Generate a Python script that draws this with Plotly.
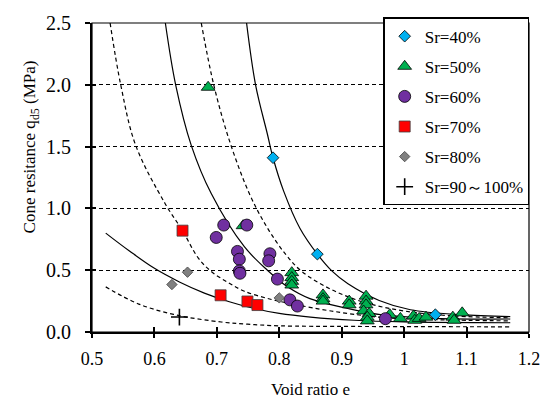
import plotly.graph_objects as go

FONT = "Liberation Serif"

# ---- measured series: void ratio e vs cone resistance qd5 (MPa) ----
sr40_e = [0.790, 0.861, 1.050]
sr40_q = [1.41, 0.63, 0.14]

sr50_e = [0.686, 0.742, 0.820, 0.820, 0.820, 0.820, 0.870, 0.870, 0.870,
          0.912, 0.912, 0.939, 0.939, 0.939, 0.935, 0.944, 0.941, 0.941,
          0.977, 0.994, 1.015, 1.017, 1.024, 1.035, 1.078, 1.080, 1.093]
sr50_q = [1.98, 0.86, 0.48, 0.44, 0.41, 0.38, 0.30, 0.27, 0.25,
          0.25, 0.22, 0.29, 0.25, 0.22, 0.17, 0.15, 0.12, 0.09,
          0.14, 0.11, 0.13, 0.095, 0.11, 0.12, 0.12, 0.095, 0.155]

sr60_e = [0.711, 0.699, 0.748, 0.733, 0.736, 0.736, 0.737, 0.785, 0.783,
          0.797, 0.817, 0.829, 0.970]
sr60_q = [0.865, 0.765, 0.865, 0.652, 0.589, 0.494, 0.475, 0.633, 0.576,
          0.428, 0.26, 0.21, 0.108]

sr70_e = [0.645, 0.706, 0.749, 0.765]
sr70_q = [0.82, 0.297, 0.247, 0.218]

sr80_e = [0.653, 0.628, 0.800]
sr80_q = [0.484, 0.384, 0.276]

sr90_e = [0.640]
sr90_q = [0.121]

# ---- reference curves (points along each curve) ----
curve_d_e = [0.7476, 0.762, 0.781, 0.790, 0.807, 0.833, 0.861, 0.885, 0.910, 0.960, 1.010, 1.090, 1.170]
curve_d_q = [2.50, 2.00, 1.60, 1.41, 1.14, 0.84, 0.63, 0.49, 0.39, 0.255, 0.180, 0.140, 0.125]

curve_c_e = [0.675, 0.695, 0.720, 0.752, 0.780, 0.810, 0.836, 0.883, 0.936, 1.000, 1.080, 1.170]
curve_c_q = [2.50, 2.00, 1.55, 1.12, 0.85, 0.63, 0.49, 0.345, 0.24, 0.17, 0.13, 0.115]

curve_b_e = [0.6175, 0.634, 0.659, 0.691, 0.744, 0.781, 0.812, 0.849, 0.910, 0.962, 1.050, 1.170]
curve_b_q = [2.50, 2.00, 1.51, 1.12, 0.69, 0.50, 0.37, 0.27, 0.19, 0.14, 0.11, 0.105]

curve_a_e = [0.529, 0.546, 0.570, 0.617, 0.645, 0.670, 0.691, 0.718, 0.744, 0.786, 0.823, 0.883, 0.960, 1.050, 1.170]
curve_a_q = [2.50, 2.00, 1.51, 1.04, 0.82, 0.60, 0.49, 0.40, 0.33, 0.265, 0.225, 0.17, 0.12, 0.10, 0.09]

curve_e_e = [0.522, 0.560, 0.600, 0.640, 0.680, 0.720, 0.760, 0.800, 0.850, 0.920, 1.000, 1.170]
curve_e_q = [0.80, 0.655, 0.515, 0.405, 0.315, 0.245, 0.19, 0.15, 0.12, 0.095, 0.082, 0.075]

curve_f_e = [0.522, 0.575, 0.638, 0.707, 0.749, 0.800, 0.920, 1.170]
curve_f_q = [0.365, 0.226, 0.134, 0.081, 0.063, 0.050, 0.045, 0.042]

x_ticks = [0.5, 0.6, 0.7, 0.8, 0.9, 1.0, 1.1, 1.2]
x_labels = ["0.5", "0.6", "0.7", "0.8", "0.9", "1", "1.1", "1.2"]
y_ticks = [0.0, 0.5, 1.0, 1.5, 2.0, 2.5]

fig = go.Figure()

curves = [
    (curve_d_e, curve_d_q, "solid"),
    (curve_c_e, curve_c_q, "4px,3px"),
    (curve_b_e, curve_b_q, "solid"),
    (curve_a_e, curve_a_q, "4px,3px"),
    (curve_e_e, curve_e_q, "solid"),
    (curve_f_e, curve_f_q, "4px,3px"),
]
for ce, cq, dash in curves:
    fig.add_trace(go.Scatter(
        x=ce, y=cq, mode="lines", showlegend=False, hoverinfo="skip",
        line=dict(color="black", width=1.2, dash=dash, shape="spline", smoothing=1.0),
    ))

outline = dict(color="black", width=0.8)
series = [
    ("Sr=40%", sr40_e, sr40_q, dict(symbol="diamond", size=9, color="#00B0F0", line=outline)),
    ("Sr=50%", sr50_e, sr50_q, dict(symbol="triangle-up", size=12, color="#00B050", line=outline)),
    ("Sr=60%", sr60_e, sr60_q, dict(symbol="circle", size=12, color="#7030A0", line=outline)),
    ("Sr=70%", sr70_e, sr70_q, dict(symbol="square", size=11, color="#FF0000", line=dict(color="#404040", width=0.8))),
    ("Sr=80%", sr80_e, sr80_q, dict(symbol="diamond", size=8, color="#808080", line=dict(color="#404040", width=0.8))),
    ("Sr=90～100%", sr90_e, sr90_q, dict(symbol="cross-thin", size=12, color="black", line=dict(color="black", width=1.6))),
]
for i, (name, xs, ys, mk) in enumerate(series):
    fig.add_trace(go.Scatter(
        x=xs, y=ys, mode="markers", name=name, marker=mk, legendgroup=f"g{i}",
    ))

# invisible trace so the overlay axes (inner tick marks) are drawn
fig.add_trace(go.Scatter(x=[0.5], y=[0], xaxis="x2", yaxis="y2", mode="markers",
                         marker=dict(opacity=0), showlegend=False, hoverinfo="skip"))

fig.update_layout(
    width=552, height=403,
    margin=dict(l=92, r=17, t=15, b=71),
    paper_bgcolor="white", plot_bgcolor="white",
    font=dict(family=FONT, size=17, color="black"),
    xaxis=dict(
        range=[0.5, 1.2], tickvals=x_ticks, ticktext=x_labels,
        ticks="outside", ticklen=4, tickwidth=1.5, tickcolor="black",
        showline=True, linecolor="black", linewidth=2, showgrid=False, zeroline=False,
        tickfont=dict(family=FONT, size=18, color="black"), ticklabelstandoff=5,
    ),
    yaxis=dict(
        range=[0, 2.5], tickvals=y_ticks, tickformat=".1f",
        ticks="outside", ticklen=5, tickwidth=1.5, tickcolor="black",
        showline=True, linecolor="black", linewidth=2, zeroline=False,
        showgrid=True, gridcolor="black", gridwidth=1.3, griddash="4px,3px",
        tickfont=dict(family=FONT, size=20, color="black"), ticklabelstandoff=10,
    ),
    xaxis2=dict(
        range=[0.5, 1.2], tickvals=x_ticks, overlaying="x", anchor="y2",
        ticks="inside", ticklen=5, tickwidth=1.5, tickcolor="black",
        showticklabels=False, showgrid=False, zeroline=False, showline=False,
    ),
    yaxis2=dict(
        range=[0, 2.5], tickvals=y_ticks, overlaying="y", anchor="x2",
        ticks="inside", ticklen=4, tickwidth=1.5, tickcolor="black",
        showticklabels=False, showgrid=False, zeroline=False, showline=False,
    ),
    legend=dict(
        x=0.667, y=1.018, xanchor="left", yanchor="top",
        bgcolor="white", bordercolor="black", borderwidth=1.2,
        font=dict(family=FONT, size=17, color="black"),
        traceorder="grouped", tracegroupgap=5, itemwidth=30,
    ),
    shapes=[dict(type="rect", xref="paper", yref="paper", x0=0, y0=0, x1=1, y1=1,
                 line=dict(color="black", width=1.2), layer="above")],
    annotations=[
        dict(text="Void ratio e", xref="paper", yref="paper", x=0.5, y=-0.185,
             xanchor="center", yanchor="middle", showarrow=False,
             font=dict(family=FONT, size=17, color="black")),
        dict(text="Cone resitance q<sub>d5</sub> (MPa)", xref="paper", yref="paper",
             x=-0.14, y=0.60, xanchor="center", yanchor="middle", textangle=-90,
             showarrow=False, font=dict(family=FONT, size=17, color="black")),
    ],
    hovermode=False,
)

fig.write_html("out.html")
